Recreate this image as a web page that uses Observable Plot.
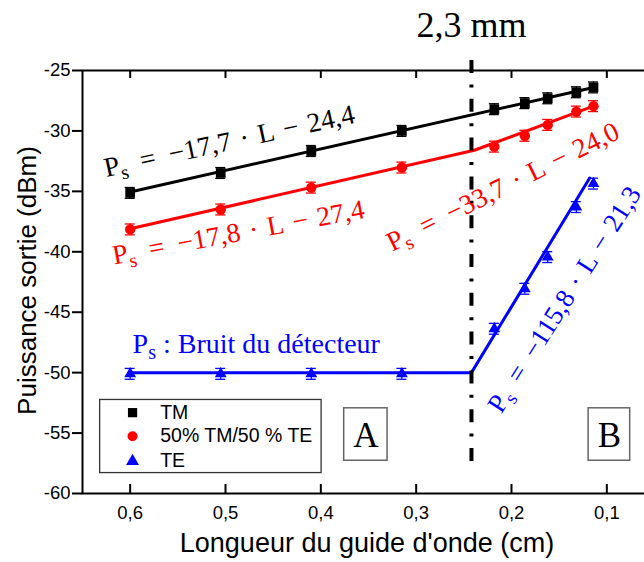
<!DOCTYPE html>
<html><head><meta charset="utf-8">
<script src="https://cdn.jsdelivr.net/npm/d3@7"></script>
<script src="https://cdn.jsdelivr.net/npm/@observablehq/plot@0.6"></script>
<style>
html,body{margin:0;padding:0;background:#fff;overflow:hidden;}
#chart{width:644px;height:562px;overflow:hidden;}
#chart svg{max-width:none !important;}
</style></head><body><div id="chart"></div>
<script>
// ---- data ----
const seriesNames = ["TM", "50% TM/50 % TE", "TE"];
const seriesColors = ["#000000", "#ff0000", "#0000ff"];
const seriesSymbols = ["square", "circle", "triangle"];
const lengthA = [0.600, 0.505, 0.410, 0.315];          // zone A (cm)
const lengthB = [0.218, 0.186, 0.162, 0.132, 0.114];   // zone B (cm)
const tmA  = [-35.13, -33.48, -31.66, -30.00];
const tmB  = [-28.20, -27.70, -27.30, -26.80, -26.40];
const mixA = [-38.15, -36.50, -34.69, -33.03];
const mixB = [-31.30, -30.40, -29.50, -28.40, -27.95];
const teA  = [-50.10, -50.10, -50.10, -50.10];
const teB  = [-46.37, -43.06, -40.44, -36.30, -34.36];
const errBar = 0.45;
// fitted lines: vertices
const fitTMx  = [0.600, 0.114];          const fitTMy  = [-35.05, -26.40];
const fitMixx = [0.600, 0.239, 0.114];   const fitMixy = [-38.10, -31.60, -27.95];
const fitTEx  = [0.600, 0.242, 0.118];   const fitTEy  = [-50.00, -50.00, -33.90];
const boundaryL = 0.242;                 // 2,3 mm
const boundaryLabel = "2,3 mm";
const xTicks = [0.6, 0.5, 0.4, 0.3, 0.2, 0.1];
const yTicks = [-25, -30, -35, -40, -45, -50, -55, -60];
const xLabel = "Longueur du guide d'onde (cm)";
const yLabel = "Puissance sortie (dBm)";
const eqTexts = [
  "P_s\u2002=\u2002\u221217,7\u2004\u00b7\u2004L\u2004\u2212\u200424,4",
  "P_s\u2002=\u2002\u221217,8\u2004\u00b7\u2004L\u2004\u2212\u200427,4",
  "P_s\u2002=\u2002\u221233,7\u2004\u00b7\u2004L\u2004\u2212\u200424,0",
  "P_s\u2002=\u2002\u2212115,8\u2004\u00b7\u2004L\u2004\u2212\u200421,3"
];
const noiseText = "P_s : Bruit du d\u00e9tecteur";
const zoneLabels = ["A", "B"];

// ---- layout ----
const W = 660, H = 562, mL = 82, mR = 6, mT = 70, mB = 69;
const xDomain = [0.65, 0.05], yDomain = [-60, -25];
const xPerPx = (xDomain[0] - xDomain[1]) / (W - mL - mR);
const yPerPx = (yDomain[1] - yDomain[0]) / (H - mT - mB);

const pts = [];
[[tmA, tmB], [mixA, mixB], [teA, teB]].forEach(([a, b], i) => {
  lengthA.forEach((x, j) => pts.push({s: i, x, y: a[j]}));
  lengthB.forEach((x, j) => pts.push({s: i, x, y: b[j]}));
});
const fits = [[fitTMx, fitTMy], [fitMixx, fitMixy], [fitTEx, fitTEy]]
  .map(([xs, ys], i) => xs.map((x, j) => ({s: i, x, y: ys[j]})));

const eqAnn = [
  {text: eqTexts[0], x: 0.4960, y: -30.85, rot: -12.3, c: 0, fs: 27.5},
  {text: eqTexts[1], x: 0.4864, y: -38.40, rot: -10.5, c: 1, fs: 27.5},
  {text: eqTexts[2], x: 0.2092, y: -34.62, rot: -26.5, c: 1, fs: 27.5},
  {text: eqTexts[3], x: 0.1445, y: -43.95, rot: -57.5, c: 2, fs: 26.8}
];
const legendRows = seriesNames.map((n, i) => ({i, n, y: [-53.31, -55.26, -57.33][i]}));
const zoneBoxes = [
  {t: zoneLabels[0], x1: 0.3755, x2: 0.3300, cx: 0.3527},
  {t: zoneLabels[1], x1: 0.1191, x2: 0.0755, cx: 0.0973}
];

const serif = "Liberation Serif", sans = "Liberation Sans";
const marks = [
  ...fits.map((f, i) => Plot.line(f, {x: "x", y: "y", stroke: seriesColors[i], strokeWidth: 3})),
  Plot.ruleX([boundaryL], {x: d => d, y1: -25 + 10 * yPerPx, y2: -57.6, stroke: "black", strokeWidth: 4, strokeDasharray: "13,11.4,3,11.4"}),
  Plot.text([boundaryLabel], {x: boundaryL, y: -25 + 33.5 * yPerPx + 0.32 * 36 * yPerPx, text: d => d, fontFamily: serif, fontSize: 36, fill: "black"}),
  Plot.ruleX(pts, {x: "x", y1: d => d.y - errBar, y2: d => d.y + errBar, stroke: d => seriesColors[d.s], strokeWidth: 1.3}),
  Plot.ruleY(pts, {y: d => d.y - errBar, x1: d => d.x - 5 * xPerPx, x2: d => d.x + 5 * xPerPx, stroke: d => seriesColors[d.s], strokeWidth: 1.3}),
  Plot.ruleY(pts, {y: d => d.y + errBar, x1: d => d.x - 5 * xPerPx, x2: d => d.x + 5 * xPerPx, stroke: d => seriesColors[d.s], strokeWidth: 1.3}),
  Plot.dot(pts.filter(d => d.s === 0), {x: "x", y: "y", symbol: "square", r: 5.5, fill: seriesColors[0]}),
  Plot.dot(pts.filter(d => d.s === 1), {x: "x", y: "y", symbol: "circle", r: 5.2, fill: seriesColors[1]}),
  Plot.dot(pts.filter(d => d.s === 2), {x: "x", y: "y", symbol: "triangle", r: 4.4, fill: seriesColors[2]}),
  ...eqAnn.map(e => Plot.text([e], {x: "x", y: "y", text: "text", rotate: e.rot, fill: seriesColors[e.c], fontFamily: serif, fontSize: e.fs})),
  Plot.text([noiseText], {x: 0.5975, y: -25 - (352.3 - 70 - 0.32 * 28) * yPerPx, text: d => d, textAnchor: "start", fill: seriesColors[2], fontFamily: serif, fontSize: 28}),
  Plot.rect([0], {x1: 0.6315, x2: 0.3992, y1: -52.26, y2: -58.31, fill: "white", stroke: "#333", strokeWidth: 1.3}),
  ...legendRows.map(r => Plot.dot([r], {x: 0.5975, y: "y", symbol: seriesSymbols[r.i], r: [5.2, 5.0, 4.8][r.i], fill: seriesColors[r.i]})),
  Plot.text(legendRows, {x: 0.5685, y: "y", text: "n", textAnchor: "start", fontFamily: sans, fontSize: 19.5, fill: "black"}),
  Plot.rect(zoneBoxes, {x1: "x1", x2: "x2", y1: -52.95, y2: -57.29, fill: "white", stroke: "#666", strokeWidth: 1.5}),
  Plot.text(zoneBoxes, {x: "cx", y: -55.26, text: "t", fontFamily: serif, fontSize: 35, fill: "black"}),
  Plot.frame({stroke: "black", strokeWidth: 2}),
  Plot.ruleX(xTicks, {x: d => d, y1: -60, y2: -60 + 9 * yPerPx, stroke: "black", strokeWidth: 2}),
  Plot.ruleX(xTicks, {x: d => d, y1: -25, y2: -25 - 8 * yPerPx, stroke: "black", strokeWidth: 2}),
  Plot.ruleY(yTicks, {y: d => d, x1: xDomain[0], x2: xDomain[0] + 10 * xPerPx, stroke: "black", strokeWidth: 2}),
  Plot.text(xTicks, {x: d => d, text: d => String(d).replace(".", ","), frameAnchor: "bottom", lineAnchor: "middle", textAnchor: "middle", dy: 19.4, fontFamily: sans, fontSize: 18.5, fill: "black"}),
  Plot.text(yTicks, {y: d => d, text: d => String(d), frameAnchor: "left", lineAnchor: "middle", textAnchor: "end", dx: -12, fontFamily: sans, fontSize: 18.5, fill: "black"}),
  Plot.text([xLabel], {text: d => d, frameAnchor: "bottom", lineAnchor: "middle", textAnchor: "middle", dx: -1.5, dy: 551.7 - 493 - 0.32 * 27, fontFamily: sans, fontSize: 27, fill: "black"}),
  Plot.text([yLabel], {text: d => d, frameAnchor: "left", lineAnchor: "middle", textAnchor: "middle", rotate: -90, dx: 35.5 - 82 - 0.32 * 26, dy: -1.5, fontFamily: sans, fontSize: 26, fill: "black"})
];

const svg = Plot.plot({
  width: W, height: H,
  marginLeft: mL, marginRight: mR, marginTop: mT, marginBottom: mB,
  x: {domain: xDomain, axis: null},
  y: {domain: yDomain, axis: null},
  style: {background: "white", fontFamily: sans, overflow: "visible", maxWidth: "none"},
  marks
});
svg.style.maxWidth = "none";
svg.setAttribute("width", W);
svg.setAttribute("height", H);
document.getElementById("chart").appendChild(svg);

// subscript "s" in P_s
d3.select(svg).selectAll("text").each(function () {
  const t = this.textContent;
  if (!t.startsWith("P_s")) return;
  const rest = t.slice(3);
  const sel = d3.select(this);
  sel.text(null);
  sel.append("tspan").text("P");
  sel.append("tspan").attr("dy", "0.3em").style("font-size", "72%").text("s");
  sel.append("tspan").attr("dy", "-0.216em").text(rest);
});
</script></body></html>
